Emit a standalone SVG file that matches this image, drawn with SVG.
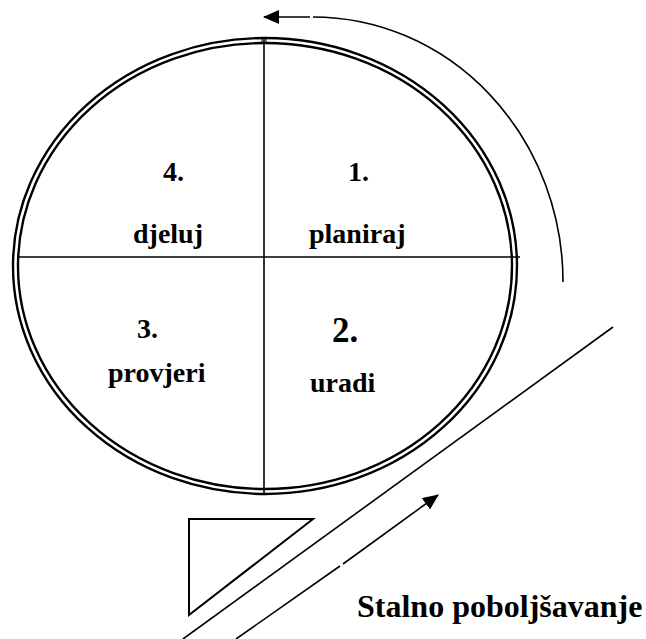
<svg xmlns="http://www.w3.org/2000/svg" width="646" height="639" viewBox="0 0 646 639">
<defs>
<style>
.ln{stroke:#000;fill:none;stroke-width:1.6}
.ring{stroke:#000;fill:none;stroke-width:2.4}
.t{font-family:"Liberation Serif","Times New Roman",Times,serif;font-weight:bold;font-size:28px;fill:#000}
</style>
<marker id="ah" markerWidth="16" markerHeight="14" refX="15" refY="7" orient="auto" markerUnits="userSpaceOnUse">
<path d="M0,0 L16,7 L0,14 Z" fill="#000"/>
</marker>
</defs>
<rect width="646" height="639" fill="#fff"/>
<g id="cycle">
<ellipse class="ring" cx="265" cy="266" rx="252" ry="228"/>
<ellipse class="ring" cx="265" cy="266" rx="247" ry="223"/>
<line class="ln" x1="264" y1="40" x2="264" y2="494"/>
<line class="ln" x1="18" y1="257" x2="520" y2="257"/>
<rect x="262" y="39" width="4" height="4" fill="none" stroke="#000" stroke-width="1"/>
</g>
<g id="q4"><text class="t" x="163" y="181">4.</text><text class="t" x="133" y="243">djeluj</text></g>
<g id="q1"><text class="t" x="348" y="181">1.</text><text class="t" x="309" y="243">planiraj</text></g>
<g id="q3"><text class="t" x="137" y="338">3.</text><text class="t" x="108" y="382">provjeri</text></g>
<g id="q2"><text class="t" x="332" y="342" style="font-size:35px">2.</text><text class="t" x="310" y="392">uradi</text></g>
<g id="wedge"><polygon points="189,519 313,519 189,615" fill="none" stroke="#000" stroke-width="2"/></g>
<g id="connectors">
<path class="ln" d="M563,282 A250,265 0 0 0 313,17"/>
<line class="ln" x1="310" y1="17" x2="264" y2="17" marker-end="url(#ah)"/>
<line class="ln" x1="183" y1="639" x2="613" y2="327"/>
<line class="ln" x1="236" y1="639" x2="340" y2="566"/>
<line class="ln" x1="343" y1="564" x2="438" y2="495" marker-end="url(#ah)"/>
</g>
<g id="label"><text class="t" x="357" y="617" style="font-size:32px">Stalno poboljšavanje</text></g>
</svg>
